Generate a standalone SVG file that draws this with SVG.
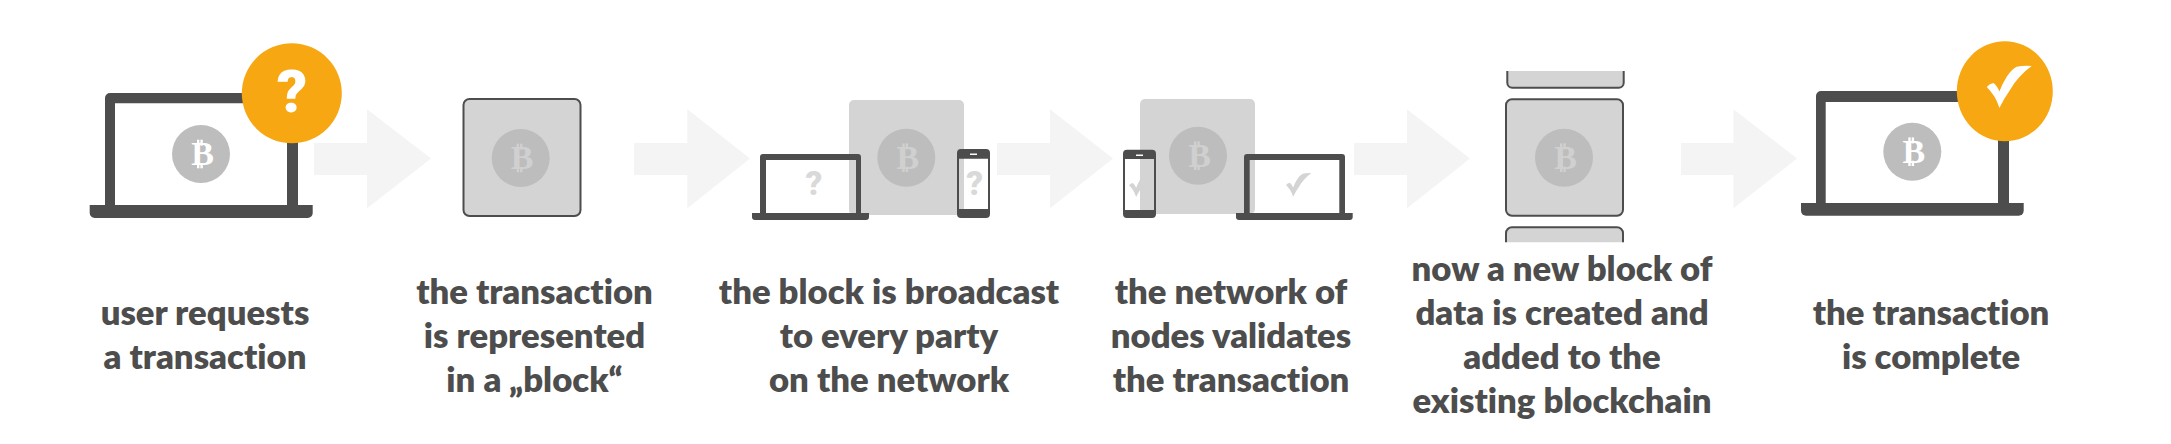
<svg xmlns="http://www.w3.org/2000/svg" xmlns:xlink="http://www.w3.org/1999/xlink" width="2171" height="444" viewBox="0 0 2171 444">
<style>
.lbl{font-family:"Lato","Open Sans","Liberation Sans",sans-serif;font-weight:800;font-size:34.700px;fill:#4d4d4d;text-anchor:middle;font-variant-ligatures:none}
.dev{fill:#4d4d4d;fill-rule:evenodd}
.arrow{fill:#f4f4f4}
.block{fill:#d4d4d4;stroke:#4d4d4d;stroke-width:2}
.ghost{fill:#d4d4d4}
.coin{fill:#bdbdbd}
.badge{fill:#f7a711}
.w{fill:#fff}
.bw{fill:#fff}
.bg{fill:#d0d0d0}
.q{font-family:"Roboto","Liberation Sans",sans-serif;font-weight:900;text-anchor:middle}
.faint{fill:#d9d9d9}
</style>
<defs>
<g id="btc">
<text x="1.500" y="11" font-family="Liberation Serif" font-weight="700" font-size="34" text-anchor="middle">B</text>
<rect x="-4" y="-14.300" width="2.400" height="6"/><rect x="-0.600" y="-14.300" width="2.400" height="6"/>
<rect x="-4" y="9" width="2.400" height="5.300"/><rect x="-0.600" y="9" width="2.400" height="5.300"/>
</g>
<path id="check" d="M0,22 Q3,18.500 6.700,18 Q10,20 12.700,26.500 Q16,18 20,11.700 Q25,4 30,1.700 Q38,0 45,1 Q38,6 33,11.700 Q27,18 23.300,25 Q17,34 12.700,43 Q10,35 7.300,31 Q4,26 0,22 Z"/>
</defs>
<g id="connectors">
<polygon class="arrow" points="314,143 367,143 367,109.300 431,158.500 367,208.300 367,175 314,175"/>
<polygon class="arrow" points="634,143 687.300,143 687.300,109.300 750,158.500 687.300,208.300 687.300,175 634,175"/>
<polygon class="arrow" points="997,143 1050,143 1050,109.300 1113,158.500 1050,208.300 1050,175 997,175"/>
<polygon class="arrow" points="1354,143 1407,143 1407,109.300 1470,158.500 1407,208.300 1407,175 1354,175"/>
<polygon class="arrow" points="1681,143 1733.500,143 1733.500,109.300 1797,158.500 1733.500,208.300 1733.500,175 1681,175"/>
</g>
<g id="step1">
<path class="dev" d="M105,206 V98 a5,5 0 0 1 5,-5 H293 a5,5 0 0 1 5,5 V206 H287 V103.300 H115 V206 Z"/>
<path class="dev" d="M89.700,205 H312.700 V213 a5,5 0 0 1 -5,5 H94.700 a5,5 0 0 1 -5,-5 Z"/>
<circle class="coin" cx="201" cy="154" r="29"/>
<use href="#btc" x="201" y="154" class="bw"/>
<ellipse class="badge" cx="291.800" cy="93.300" rx="50" ry="50"/>
<text class="q w" x="292" y="111.700" font-size="60">?</text>
<text class="lbl" x="205" y="325">user requests</text>
<text class="lbl" x="205" y="369">a transaction</text>
</g>
<g id="step2">
<rect class="block" x="463.500" y="99" width="117" height="117" rx="6"/>
<circle class="coin" cx="520.700" cy="158" r="29"/>
<use href="#btc" x="520.700" y="158" class="bg"/>
<text class="lbl" x="534.500" y="303.500">the transaction</text>
<text class="lbl" x="534.500" y="347.500">is represented</text>
<text class="lbl" x="534.500" y="391.500">in a „block“</text>
</g>
<g id="step3">
<rect class="ghost" x="849" y="100" width="115" height="115" rx="5"/>
<circle class="coin" cx="906.300" cy="157.700" r="29"/>
<use href="#btc" x="906.300" y="157.700" class="bg"/>
<path class="dev" d="M760,214 V157 a3,3 0 0 1 3,-3 H858 a3,3 0 0 1 3,3 V214 H856 V160 H766 V214 Z"/>
<path class="dev" d="M752,213 H869 V217 a3,3 0 0 1 -3,3 H755 a3,3 0 0 1 -3,-3 Z"/>
<text class="q faint" x="814" y="195" font-size="33">?</text>
<path class="dev" d="M961,149 H986 a4,4 0 0 1 4,4 V214 a4,4 0 0 1 -4,4 H961 a4,4 0 0 1 -4,-4 V153 a4,4 0 0 1 4,-4 Z M959,158.700 V209 H988 V158.700 Z"/>
<rect class="w" x="970" y="153.500" width="7" height="1.500"/>
<text class="q faint" x="974.700" y="195" font-size="33">?</text>
<text class="lbl" x="889" y="303.500">the block is broadcast</text>
<text class="lbl" x="889" y="347.500">to every party</text>
<text class="lbl" x="889" y="391.500">on the network</text>
</g>
<g id="step4">
<rect class="ghost" x="1140" y="99" width="115" height="115" rx="5"/>
<circle class="coin" cx="1198" cy="155.700" r="29"/>
<use href="#btc" x="1198" y="155.700" class="bg"/>
<path class="dev" d="M1244,214 V157 a3,3 0 0 1 3,-3 H1342 a3,3 0 0 1 3,3 V214 H1339.300 V160 H1249.700 V214 Z"/>
<path class="dev" d="M1236,213 H1352.700 V217 a3,3 0 0 1 -3,3 H1239 a3,3 0 0 1 -3,-3 Z"/>
<use href="#check" transform="translate(1286,172.700) scale(0.56)" fill="#d4d4d4"/>
<use href="#check" transform="translate(1129,173) scale(0.56)" fill="#d4d4d4"/>
<path class="dev" d="M1127,149.700 H1152 a4,4 0 0 1 4,4 V214 a4,4 0 0 1 -4,4 H1127 a4,4 0 0 1 -4,-4 V153.700 a4,4 0 0 1 4,-4 Z M1125,159 V210 H1154 V159 Z"/>
<rect class="w" x="1136" y="154.500" width="7" height="1.500"/>
<text class="lbl" x="1231" y="303.500">the network of</text>
<text class="lbl" x="1231" y="347.500">nodes validates</text>
<text class="lbl" x="1231" y="391.500">the transaction</text>
</g>
<g id="step5">
<path class="block" d="M1507.300,71 V82.700 a5,5 0 0 0 5,5 H1618.700 a5,5 0 0 0 5,-5 V71"/>
<rect class="block" x="1506" y="99.300" width="117" height="116.400" rx="6"/>
<path class="block" d="M1506,242.300 V233.300 a6,6 0 0 1 6,-6 H1617 a6,6 0 0 1 6,6 V242.300"/>
<circle class="coin" cx="1564" cy="157.700" r="29"/>
<use href="#btc" x="1564" y="157.700" class="bg"/>
<text class="lbl" x="1562" y="281">now a new block of</text>
<text class="lbl" x="1562" y="325">data is created and</text>
<text class="lbl" x="1562" y="369">added to the</text>
<text class="lbl" x="1562" y="413">existing blockchain</text>
</g>
<g id="step6">
<path class="dev" d="M1816,204 V96 a5,5 0 0 1 5,-5 H2004 a5,5 0 0 1 5,5 V204 H1998 V102 H1825.700 V204 Z"/>
<path class="dev" d="M1801,203 H2023.700 V210.700 a5,5 0 0 1 -5,5 H1806 a5,5 0 0 1 -5,-5 Z"/>
<circle class="coin" cx="1912.300" cy="151.700" r="29"/>
<use href="#btc" x="1912.300" y="151.700" class="bw"/>
<ellipse class="badge" cx="2004.800" cy="91.300" rx="48" ry="50"/>
<use href="#check" transform="translate(1986.700,65)" fill="#fff"/>
<text class="lbl" x="1931" y="325">the transaction</text>
<text class="lbl" x="1931" y="369">is complete</text>
</g>
</svg>
